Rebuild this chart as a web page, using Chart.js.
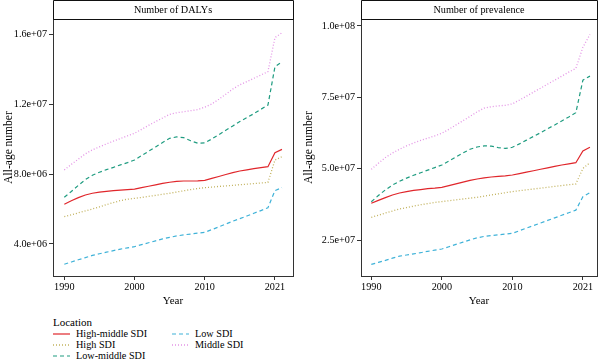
<!DOCTYPE html>
<html>
<head>
<meta charset="utf-8">
<script src="https://cdn.jsdelivr.net/npm/chart.js@4"></script>
<style>
  html, body { margin:0; padding:0; background:#fff; }
  #wrap { position:relative; width:600px; height:363px; overflow:hidden; font-family:"Liberation Serif", serif; color:#000; }
  .cv { position:absolute; top:0; }
  .lg { position:absolute; font-size:10.2px; line-height:12px; white-space:nowrap; }
  .lg svg { position:absolute; }
</style>
</head>
<body>
<div id="wrap">
  <div class="cv" style="left:0;width:300px;height:310px;"><canvas id="c1"></canvas></div>
  <div class="cv" style="left:300px;width:300px;height:310px;"><canvas id="c2"></canvas></div>
  <div id="legend"></div>
</div>
<script>
// ---------- data ----------
const years = [1990,1991,1992,1993,1994,1995,1996,1997,1998,1999,2000,2001,2002,2003,2004,2005,2006,2007,2008,2009,2010,2011,2012,2013,2014,2015,2016,2017,2018,2019,2020,2021];
const locations = ["High-middle SDI","High SDI","Low-middle SDI","Low SDI","Middle SDI"];

// Number of DALYs
const dalysHighMiddle = [6.27e6,6.47e6,6.65e6,6.80e6,6.90e6,6.96e6,7.01e6,7.05e6,7.08e6,7.11e6,7.14e6,7.22e6,7.30e6,7.38e6,7.46e6,7.53e6,7.58e6,7.60e6,7.60e6,7.61e6,7.64e6,7.75e6,7.86e6,7.97e6,8.08e6,8.17e6,8.24e6,8.31e6,8.37e6,8.42e6,9.22e6,9.41e6];
const dalysHigh       = [5.56e6,5.67e6,5.78e6,5.89e6,6.00e6,6.12e6,6.25e6,6.37e6,6.48e6,6.56e6,6.61e6,6.66e6,6.72e6,6.78e6,6.84e6,6.90e6,6.97e6,7.04e6,7.11e6,7.17e6,7.22e6,7.25e6,7.29e6,7.32e6,7.35e6,7.39e6,7.42e6,7.45e6,7.49e6,7.52e6,8.80e6,8.99e6];
const dalysLowMiddle  = [6.67e6,7.00e6,7.35e6,7.68e6,7.93e6,8.10e6,8.25e6,8.38e6,8.52e6,8.65e6,8.80e6,9.05e6,9.30e6,9.55e6,9.80e6,10.04e6,10.12e6,10.08e6,9.90e6,9.76e6,9.78e6,10.00e6,10.25e6,10.50e6,10.75e6,11.00e6,11.22e6,11.45e6,11.70e6,11.94e6,14.13e6,14.42e6];
const dalysLow        = [2.84e6,2.97e6,3.10e6,3.22e6,3.35e6,3.44e6,3.53e6,3.62e6,3.71e6,3.78e6,3.85e6,3.96e6,4.07e6,4.18e6,4.29e6,4.38e6,4.46e6,4.52e6,4.57e6,4.62e6,4.67e6,4.82e6,4.98e6,5.14e6,5.30e6,5.45e6,5.60e6,5.76e6,5.91e6,6.07e6,7.05e6,7.22e6];
const dalysMiddle     = [8.23e6,8.55e6,8.85e6,9.15e6,9.38e6,9.55e6,9.72e6,9.88e6,10.03e6,10.18e6,10.33e6,10.55e6,10.78e6,11.00e6,11.20e6,11.41e6,11.50e6,11.56e6,11.62e6,11.68e6,11.82e6,12.00e6,12.27e6,12.56e6,12.86e6,13.10e6,13.28e6,13.47e6,13.66e6,13.85e6,15.80e6,16.07e6];

// Number of prevalence
const prevHighMiddle = [37.9e6,38.9e6,39.9e6,40.8e6,41.5e6,42.0e6,42.4e6,42.7e6,43.0e6,43.2e6,43.5e6,44.1e6,44.7e6,45.3e6,45.9e6,46.4e6,46.8e6,47.1e6,47.3e6,47.5e6,47.8e6,48.3e6,48.8e6,49.3e6,49.8e6,50.3e6,50.8e6,51.3e6,51.7e6,52.1e6,56.2e6,57.5e6];
const prevHigh       = [33.0e6,33.7e6,34.5e6,35.2e6,35.9e6,36.4e6,36.9e6,37.4e6,37.8e6,38.2e6,38.5e6,38.8e6,39.1e6,39.4e6,39.7e6,40.0e6,40.4e6,40.8e6,41.2e6,41.6e6,42.0e6,42.3e6,42.6e6,42.9e6,43.2e6,43.5e6,43.8e6,44.1e6,44.4e6,44.65e6,50.1e6,52.1e6];
const prevLowMiddle  = [38.45e6,40.6e6,42.6e6,44.3e6,45.6e6,46.7e6,47.7e6,48.6e6,49.5e6,50.4e6,51.3e6,52.7e6,54.1e6,55.5e6,56.8e6,57.6e6,58.0e6,57.9e6,57.4e6,57.1e6,57.5e6,58.7e6,60.0e6,61.3e6,62.6e6,64.0e6,65.3e6,66.7e6,68.1e6,69.6e6,81.0e6,82.4e6];
const prevLow        = [16.5e6,17.2e6,17.9e6,18.7e6,19.4e6,19.8e6,20.2e6,20.6e6,21.1e6,21.5e6,21.9e6,22.7e6,23.5e6,24.3e6,25.1e6,25.8e6,26.3e6,26.6e6,26.9e6,27.1e6,27.4e6,28.3e6,29.2e6,30.1e6,31.0e6,31.9e6,32.8e6,33.7e6,34.6e6,35.5e6,40.2e6,41.6e6];
const prevMiddle     = [49.8e6,51.9e6,53.9e6,55.5e6,56.8e6,58.0e6,59.0e6,59.9e6,60.7e6,61.5e6,62.4e6,63.8e6,65.3e6,66.8e6,68.3e6,69.9e6,71.2e6,71.7e6,72.0e6,72.2e6,72.7e6,74.0e6,75.4e6,76.8e6,78.2e6,79.6e6,81.0e6,82.4e6,83.8e6,85.1e6,92.5e6,97.0e6];

// tick values and labels
const xTickValues = [1990, 2000, 2010, 2020];
const xTickLabels = ["1990", "2000", "2010", "2021"];
const dalysTickValues = [4e6, 8e6, 1.2e7, 1.6e7];
const dalysTickLabels = ["4.0e+06", "8.0e+06", "1.2e+07", "1.6e+07"];
const prevTickValues = [2.5e7, 5e7, 7.5e7, 1e8];
const prevTickLabels = ["2.5e+07", "5.0e+07", "7.5e+07", "1.0e+08"];

// ---------- styles ----------
const FONT = '"Liberation Serif", serif';
const styles = {
  "High-middle SDI": { color: "#e0262b", dash: [] ,    width: 1.2 },
  "High SDI":        { color: "#c2b25e", dash: [1,2],  width: 1.3 },
  "Low-middle SDI":  { color: "#1f9c80", dash: [4,3],  width: 1.2 },
  "Low SDI":         { color: "#3fb2d8", dash: [4,3],  width: 1.2 },
  "Middle SDI":      { color: "#e494e6", dash: [1,2],  width: 1.3 }
};

function makeDatasets(series) {
  return locations.map((name, i) => ({
    label: name,
    data: years.map((y, j) => ({ x: y, y: series[i][j] })),
    borderColor: styles[name].color,
    borderDash: styles[name].dash,
    borderWidth: styles[name].width,
    pointRadius: 0,
    tension: 0,
    fill: false
  }));
}

const stripPlugin = {
  id: 'strip',
  afterDraw(chart, args, opts) {
    const { ctx, chartArea: a } = chart;
    ctx.save();
    ctx.strokeStyle = '#333';
    ctx.lineWidth = 1;
    ctx.strokeRect(Math.round(a.left) + 0.5, Math.round(a.top) + 0.5, Math.round(a.right - a.left), Math.round(a.bottom - a.top));
    ctx.strokeStyle = '#111';
    ctx.beginPath();
    ctx.moveTo(Math.round(a.left) + 0.5, Math.round(a.top) + 0.5);
    ctx.lineTo(Math.round(a.left) + 0.5, 0.5);
    ctx.lineTo(Math.round(a.right) + 0.5, 0.5);
    ctx.lineTo(Math.round(a.right) + 0.5, Math.round(a.top) + 0.5);
    ctx.closePath();
    ctx.stroke();
    ctx.fillStyle = '#000';
    ctx.font = '10.2px ' + FONT;
    ctx.textAlign = 'center';
    ctx.textBaseline = 'middle';
    ctx.fillText(opts.text, (a.left + a.right) / 2, a.top / 2 + 0.5);
    ctx.restore();
  }
};

function makeChart(id, series, title, yMin, yMax, yTicks, yLabels, xMin, xMax, yWidth, padRight) {
  return new Chart(document.getElementById(id), {
    type: 'line',
    data: { datasets: makeDatasets(series) },
    plugins: [stripPlugin],
    options: {
      responsive: true,
      maintainAspectRatio: false,
      animation: false,
      events: [],
      layout: { padding: { top: 19, right: padRight, left: 0, bottom: 0 } },
      plugins: { legend: { display: false }, tooltip: { enabled: false }, strip: { text: title } },
      scales: {
        x: {
          type: 'linear', min: xMin, max: xMax,
          afterBuildTicks: s => { s.ticks = xTickValues.map(v => ({ value: v })); },
          afterFit: s => { s.height = 34; },
          ticks: {
            callback: (v) => xTickLabels[xTickValues.indexOf(v)],
            color: '#000', font: { family: FONT, size: 10.2 }, padding: 1, maxRotation: 0, autoSkip: false
          },
          grid: { drawOnChartArea: false, drawTicks: true, tickLength: 4, color: '#333', lineWidth: 1 },
          border: { display: false },
          title: { display: true, text: 'Year', color: '#000', font: { family: FONT, size: 11 }, padding: { top: 0, bottom: 2 } }
        },
        y: {
          type: 'linear', min: yMin, max: yMax,
          afterBuildTicks: s => { s.ticks = yTicks.map(v => ({ value: v })); },
          afterFit: s => { s.width = yWidth; },
          ticks: {
            callback: (v) => yLabels[yTicks.indexOf(v)],
            color: '#000', font: { family: FONT, size: 10.2 }, padding: 2, autoSkip: false
          },
          grid: { drawOnChartArea: false, drawTicks: true, tickLength: 4, color: '#333', lineWidth: 1 },
          border: { display: false },
          title: { display: true, text: 'All-age number', color: '#000', font: { family: FONT, size: 11.5 }, padding: { top: 2, bottom: 0 } }
        }
      }
    }
  });
}

makeChart('c1',
  [dalysHighMiddle, dalysHigh, dalysLowMiddle, dalysLow, dalysMiddle],
  'Number of DALYs', 2.17e6, 1.686e7, dalysTickValues, dalysTickLabels, 1988.39, 2022.57, 53, 7);
makeChart('c2',
  [prevHighMiddle, prevHigh, prevLowMiddle, prevLow, prevMiddle],
  'Number of prevalence', 1.245e7, 1.024e8, prevTickValues, prevTickLabels, 1988.54, 2022.0, 61, 3);

// ---------- legend (HTML) ----------
const legendPos = [
  { x: 53,  y: 334 }, { x: 53, y: 345 }, { x: 53, y: 356 },
  { x: 172, y: 334 }, { x: 172, y: 345 }
];
const lg = document.getElementById('legend');
let html = '<div class="lg" style="left:53px;top:316px;font-size:11px;">Location</div>';
locations.forEach((name, i) => {
  const p = legendPos[i], st = styles[name];
  html += '<svg width="17" height="6" style="position:absolute;left:' + p.x + 'px;top:' + (p.y - 3) + 'px;">' +
    '<line x1="0" y1="3" x2="17" y2="3" stroke="' + st.color + '" stroke-width="' + st.width + '" stroke-dasharray="' + (st.dash.length ? st.dash.join(',') : 'none') + '"/></svg>';
  html += '<div class="lg" style="left:' + (p.x + 23) + 'px;top:' + (p.y - 6) + 'px;">' + name + '</div>';
});
lg.innerHTML = html;
</script>
</body>
</html>
